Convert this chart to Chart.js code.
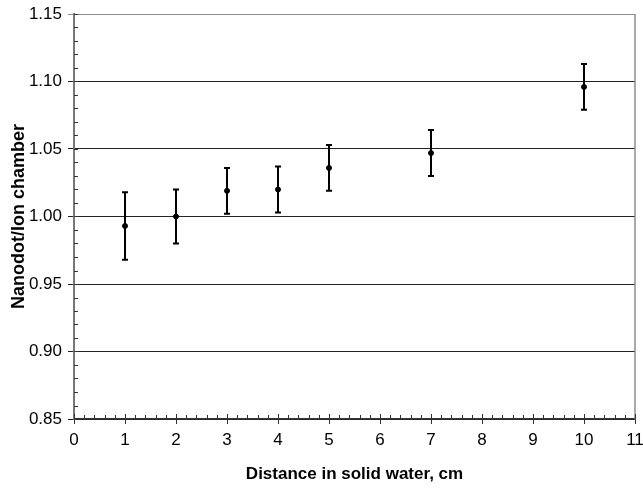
<!DOCTYPE html>
<html>
<head>
<meta charset="utf-8">
<script src="https://cdn.jsdelivr.net/npm/chart.js@4/dist/chart.umd.min.js"></script>
<style>
  html, body { margin: 0; padding: 0; background: #fff; }
  #wrap { width: 643px; height: 493px; }
</style>
</head>
<body>
<div id="wrap"><canvas id="chart"></canvas></div>
<script>
// distance in solid water (cm) and the measured ratio with its error
const distances = [1, 2, 3, 4, 5, 7, 10];
const ratios = [0.993, 1.000, 1.019, 1.020, 1.036, 1.047, 1.096];
const errors = [0.025, 0.020, 0.017, 0.017, 0.017, 0.017, 0.017];

const xTicks = [0, 1, 2, 3, 4, 5, 6, 7, 8, 9, 10, 11];
const yTicks = [0.85, 0.90, 0.95, 1.00, 1.05, 1.10, 1.15];

// error bars + minor ticks + right frame line
const extras = {
  id: "extras",
  beforeDatasetsDraw(chart) {
    const { ctx, chartArea: a } = chart;
    const xs = chart.scales.x, ys = chart.scales.y;
    ctx.save();
    // right frame
    ctx.strokeStyle = "#8c8c8c";
    ctx.lineWidth = 1.5;
    ctx.beginPath();
    ctx.moveTo(a.right, a.top);
    ctx.lineTo(a.right, a.bottom);
    ctx.stroke();
    // y minor ticks (inside)
    ctx.strokeStyle = "#333";
    ctx.lineWidth = 1;
    for (let v = 85; v <= 115; v++) {
      const y = Math.round(ys.getPixelForValue(v / 100)) + 0.5;
      ctx.beginPath();
      ctx.moveTo(a.left, y);
      ctx.lineTo(a.left + 4, y);
      ctx.stroke();
    }
    // x minor ticks (up), majors cross the axis
    for (let k = 0; k <= 55; k++) {
      const x = Math.round(xs.getPixelForValue(k / 5)) + 0.5;
      ctx.beginPath();
      ctx.moveTo(x, a.bottom);
      ctx.lineTo(x, a.bottom - (k % 5 === 0 ? 5 : 4));
      ctx.stroke();
    }
    ctx.restore();
  },
  afterDatasetsDraw(chart) {
    const { ctx } = chart;
    const xs = chart.scales.x, ys = chart.scales.y;
    ctx.save();
    ctx.strokeStyle = "#000";
    ctx.lineWidth = 2;
    distances.forEach((d, i) => {
      const x = xs.getPixelForValue(d);
      const yt = ys.getPixelForValue(ratios[i] + errors[i]);
      const yb = ys.getPixelForValue(ratios[i] - errors[i]);
      ctx.beginPath();
      ctx.moveTo(x, yt); ctx.lineTo(x, yb);
      ctx.moveTo(x - 3, yt); ctx.lineTo(x + 3, yt);
      ctx.moveTo(x - 3, yb); ctx.lineTo(x + 3, yb);
      ctx.stroke();
    });
    ctx.restore();
  }
};

new Chart(document.getElementById("chart"), {
  type: "scatter",
  data: {
    datasets: [{
      data: distances.map((d, i) => ({ x: d, y: ratios[i] })),
      backgroundColor: "#000",
      borderColor: "#000",
      pointRadius: 2.5,
      pointHoverRadius: 2.5,
      showLine: false
    }]
  },
  options: {
    responsive: true,
    maintainAspectRatio: false,
    animation: false,
    events: [],
    layout: { padding: { top: 14, right: 8, bottom: 0, left: 0 } },
    plugins: { legend: { display: false }, tooltip: { enabled: false } },
    scales: {
      x: {
        type: "linear",
        min: 0, max: 11,
        afterBuildTicks: s => { s.ticks = xTicks.map(v => ({ value: v })); },
        afterFit: s => { s.height = 74; s.paddingRight = 0; s.paddingLeft = 0; },
        grid: { drawOnChartArea: false, color: "#333", tickLength: 5 },
        border: { color: "#333", width: 1.5 },
        ticks: { color: "#000", padding: 6, font: { family: "Liberation Sans", size: 17 }, maxRotation: 0 },
        title: {
          display: true,
          text: "Distance in solid water, cm",
          color: "#000",
          font: { family: "Liberation Sans", size: 17, weight: "bold" },
          padding: { top: 0, bottom: 8 }
        }
      },
      y: {
        min: 0.85, max: 1.15,
        afterBuildTicks: s => { s.ticks = yTicks.map(v => ({ value: v })); },
        afterFit: s => { s.width = 74; s.paddingTop = 0; s.paddingBottom = 0; },
        grid: {
          color: c => (c.tick && Math.abs(c.tick.value - 1.15) < 1e-6) ? "#8c8c8c" : "#222",
          lineWidth: 1,
          tickLength: 6
        },
        border: { color: "#777", width: 2 },
        ticks: {
          color: "#000",
          padding: 6,
          font: { family: "Liberation Sans", size: 17 },
          callback: v => v.toFixed(2)
        },
        title: {
          display: true,
          text: "Nanodot/Ion chamber",
          color: "#000",
          font: { family: "Liberation Sans", size: 18, weight: "bold" },
          padding: { top: 8, bottom: 0 }
        }
      }
    }
  },
  plugins: [extras]
});
</script>
</body>
</html>
